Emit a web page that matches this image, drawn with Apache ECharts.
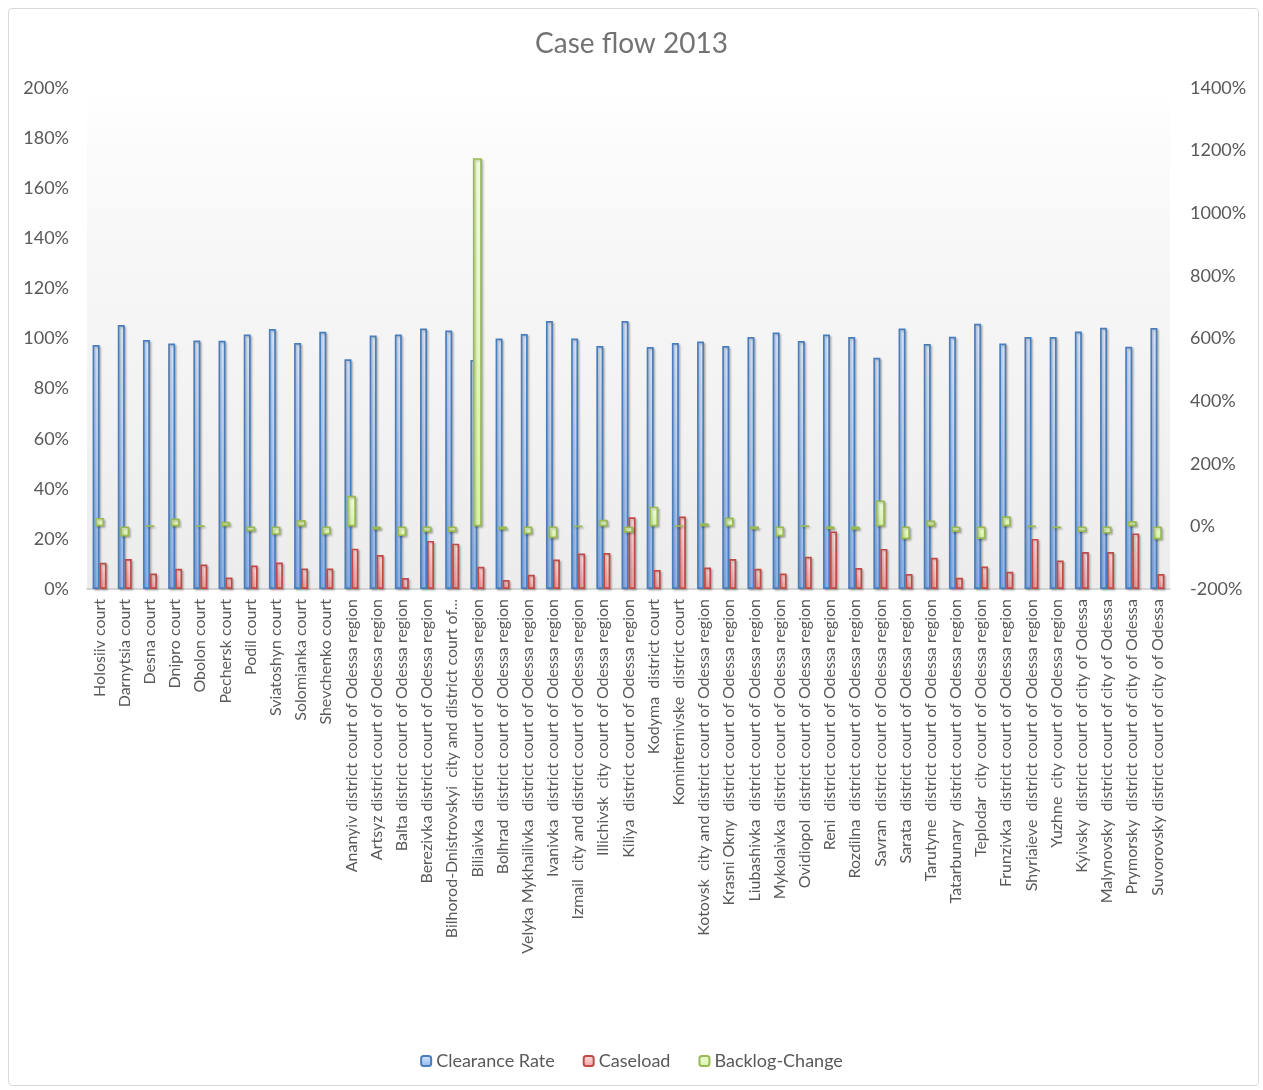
<!DOCTYPE html>
<html>
<head>
<meta charset="utf-8">
<script src="https://cdn.jsdelivr.net/npm/echarts@6/dist/echarts.min.js"></script>
<style>
  html, body { margin: 0; padding: 0; background: #ffffff; }
  #wrap { position: relative; width: 1263px; height: 1090px; }
  #chart { position: absolute; left: 0; top: 0; width: 1263px; height: 1090px; }
  #frame { position: absolute; left: 8px; top: 8px; width: 1249px; height: 1076px;
           border: 1px solid #d9d9d9; border-radius: 4px; pointer-events: none; }
</style>
</head>
<body>
<div id="wrap"><div id="chart"></div><div id="frame"></div></div>
<script>
const categories = [
  "Holosiiv court",
  "Darnytsia court",
  "Desna court",
  "Dnipro court",
  "Obolon court",
  "Pechersk court",
  "Podil court",
  "Sviatoshyn court",
  "Solomianka court",
  "Shevchenko court",
  "Ananyiv district court of Odessa region",
  "Artsyz district court of Odessa region",
  "Balta district court of Odessa region",
  "Berezivka district court of Odessa region",
  "Bilhorod-Dnistrovskyi  city and district court of...",
  "Biliaivka  district court of Odessa region",
  "Bolhrad  district court of Odessa region",
  "Velyka Mykhailivka  district court of Odessa region",
  "Ivanivka  district court of Odessa region",
  "Izmail  city and district court of Odessa region",
  "Illichivsk  city court of Odessa region",
  "Kiliya  district court of Odessa region",
  "Kodyma  district court",
  "Kominternivske  district court",
  "Kotovsk  city and district court of Odessa region",
  "Krasni Okny  district court of Odessa region",
  "Liubashivka  district court of Odessa region",
  "Mykolaivka  district court of Odessa region",
  "Ovidiopol  district court of Odessa region",
  "Reni  district court of Odessa region",
  "Rozdilna  district court of Odessa region",
  "Savran  district court of Odessa region",
  "Sarata  district court of Odessa region",
  "Tarutyne  district court of Odessa region",
  "Tatarbunary  district court of Odessa region",
  "Teplodar  city court of Odessa region",
  "Frunzivka  district court of Odessa region",
  "Shyriaieve  district court of Odessa region",
  "Yuzhne  city court of Odessa region",
  "Kyivsky  district court of city of Odessa",
  "Malynovsky  district court of city of Odessa",
  "Prymorsky  district court of city of Odessa",
  "Suvorovsky district court of city of Odessa"
];

// Clearance Rate (%), left axis
const clearanceRate = [
  97.4, 105.4, 99.4, 98.0, 99.2, 99.1, 101.6, 103.8, 98.2, 102.7,
  91.7, 101.2, 101.6, 104.0, 103.2, 91.4, 100.0, 101.8, 107.0, 100.0,
  97.0, 107.0, 96.6, 98.2, 98.8, 97.0, 100.6, 102.4, 99.0, 101.6,
  100.6, 92.3, 104.0, 97.8, 100.7, 105.9, 98.0, 100.6, 100.6, 102.8,
  104.3, 96.7, 104.2
];

// Caseload (%), left axis
const caseload = [
  10.5, 12.0, 6.2, 8.1, 9.8, 4.6, 9.4, 10.6, 8.2, 8.2,
  16.1, 13.6, 4.4, 19.2, 18.1, 8.9, 3.6, 5.7, 11.8, 14.2,
  14.4, 28.6, 7.6, 28.9, 8.6, 12.0, 8.1, 6.2, 12.9, 23.0,
  8.4, 16.0, 6.0, 12.5, 4.5, 9.0, 6.9, 20.0, 11.4, 14.8,
  14.8, 22.2, 6.0
];

// Backlog-Change (%), right axis
const backlogChange = [
  27, -32, 1, 25, 1, 15, -16, -27, 20, -27,
  98, -11, -31, -19, -18, 1176, -11, -25, -38, 0.5,
  21, -20, 63, 1, 10, 28, -10, -32, 1, -9,
  -11, 83, -41, 19, -18, -40, 32, 0.5, -6, -18,
  -23, 17, -42
];

const leftTicks = { min: 0, max: 200, interval: 20 };
const rightTicks = { min: -200, max: 1400, interval: 200 };

const FONT = 'Lato';
const TXT = '#595959';

function grad(top, bottom) {
  return new echarts.graphic.LinearGradient(0, 0, 0, 1, [
    { offset: 0, color: top }, { offset: 1, color: bottom }
  ]);
}
const pct = v => String(v) + '%';
const shadow = { shadowBlur: 2, shadowOffsetX: 1.5, shadowOffsetY: 1.5, shadowColor: 'rgba(0,0,0,0.22)' };

const chart = echarts.init(document.getElementById('chart'), null, { renderer: 'canvas' });
chart.setOption({
  animation: false,
  backgroundColor: '#ffffff',
  textStyle: { fontFamily: FONT },
  title: {
    text: 'Case flow 2013',
    left: 'center', top: 25,
    textStyle: { fontFamily: FONT, fontSize: 28, fontWeight: 'normal', color: '#737373' }
  },
  legend: {
    bottom: 15, left: 'center',
    itemWidth: 10, itemHeight: 10, itemGap: 28,
    textStyle: { fontFamily: FONT, fontSize: 18, color: TXT, padding: [0, 0, 0, 0] },
    data: ['Clearance Rate', 'Caseload', 'Backlog-Change']
  },
  grid: {
    left: 87, right: 93, top: 88, bottom: 501,
    show: true, borderWidth: 0,
    backgroundColor: new echarts.graphic.LinearGradient(0, 0, 0, 1, [
      { offset: 0, color: '#ffffff' }, { offset: 0.12, color: '#fbfbfb' }, { offset: 1, color: '#ececec' }
    ])
  },
  xAxis: [
    {
      type: 'category', data: categories,
      axisLine: { show: true, lineStyle: { color: '#c8c8c8', width: 1.5 } },
      axisTick: { show: false },
      axisLabel: { interval: 0, rotate: 90, margin: 10, fontFamily: FONT, fontSize: 16, color: TXT }
    },
    {
      type: 'category', data: categories, show: false
    }
  ],
  yAxis: [
    {
      type: 'value', min: leftTicks.min, max: leftTicks.max, interval: leftTicks.interval,
      axisLine: { show: false }, axisTick: { show: false }, splitLine: { show: false },
      axisLabel: { formatter: pct, margin: 18, fontFamily: FONT, fontSize: 18, color: TXT }
    },
    {
      type: 'value', min: rightTicks.min, max: rightTicks.max, interval: rightTicks.interval,
      position: 'right',
      axisLine: { show: false }, axisTick: { show: false }, splitLine: { show: false },
      axisLabel: { formatter: pct, margin: 20, fontFamily: FONT, fontSize: 18, color: TXT }
    }
  ],
  series: [
    {
      name: 'Clearance Rate', type: 'bar', xAxisIndex: 0, yAxisIndex: 0,
      data: clearanceRate, barWidth: 7, barGap: '0%',
      itemStyle: Object.assign({ color: grad('#dce8fc', '#8fb7f1'), borderColor: '#4a7ebb', borderWidth: 1.7 }, shadow)
    },
    {
      name: 'Caseload', type: 'bar', xAxisIndex: 0, yAxisIndex: 0,
      data: caseload, barWidth: 7, barGap: '0%',
      itemStyle: Object.assign({ color: grad('#fde2e2', '#f5a0a0'), borderColor: '#be4b48', borderWidth: 1.7 }, shadow)
    },
    {
      name: 'Backlog-Change', type: 'bar', xAxisIndex: 1, yAxisIndex: 1,
      data: backlogChange, barWidth: 9,
      itemStyle: Object.assign({ color: grad('#f0fdd8', '#d6f3a6'), borderColor: '#98b954', borderWidth: 1.7 }, shadow)
    }
  ]
});
</script>
</body>
</html>
